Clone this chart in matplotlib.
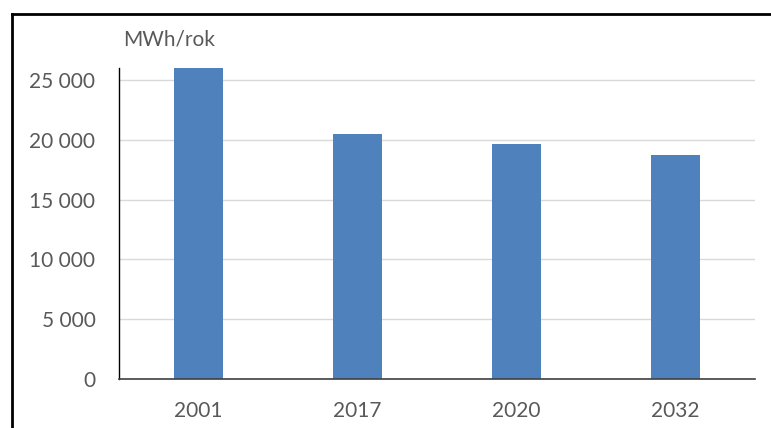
import matplotlib.pyplot as plt
from matplotlib.lines import Line2D

years = ["2001", "2017", "2020", "2032"]
energy = [26000, 20450, 19680, 18760]
y_ticks = [0, 5000, 10000, 15000, 20000, 25000]
y_labels = ["0", "5 000", "10 000", "15 000", "20 000", "25 000"]

plt.rcParams['font.family'] = ['Lato', 'DejaVu Sans']
W, H = 771, 428
fig = plt.figure(figsize=(W / 100, H / 100), dpi=100)
ax = fig.add_axes([119 / W, 1 - 379 / H, (755 - 119) / W, (379 - 68) / H])

x = range(len(years))
ax.bar(x, energy, width=0.31, color='#4f81bd', zorder=2)
ax.set_xlim(-0.5, len(years) - 0.5)
ax.set_ylim(0, 26000)
ax.set_xticks(list(x))
ax.set_xticklabels(years)
ax.set_yticks(y_ticks)
ax.set_yticklabels(y_labels)
ax.yaxis.grid(True, color='#d9d9d9', linewidth=1, zorder=0)
ax.tick_params(axis='both', length=0, labelsize=15, colors='#595959')
ax.tick_params(axis='x', pad=16)
ax.tick_params(axis='y', pad=17)
for s in ['top', 'right']:
    ax.spines[s].set_visible(False)
ax.spines['left'].set_color('#000000')
ax.spines['bottom'].set_color('#404040')
ax.spines['left'].set_linewidth(1)
ax.spines['bottom'].set_linewidth(1.2)

fig.text(123 / W, 1 - 40 / H, "MWh/rok", fontsize=15, color='#595959', va='center', ha='left')

# outer frame (top and left edges only)
fig.add_artist(Line2D([12 / W, 1], [1 - 14 / H, 1 - 14 / H], color='black', linewidth=2))
fig.add_artist(Line2D([12 / W, 12 / W], [0, 1 - 14 / H], color='black', linewidth=2))

fig.savefig("out.png", dpi=100)
